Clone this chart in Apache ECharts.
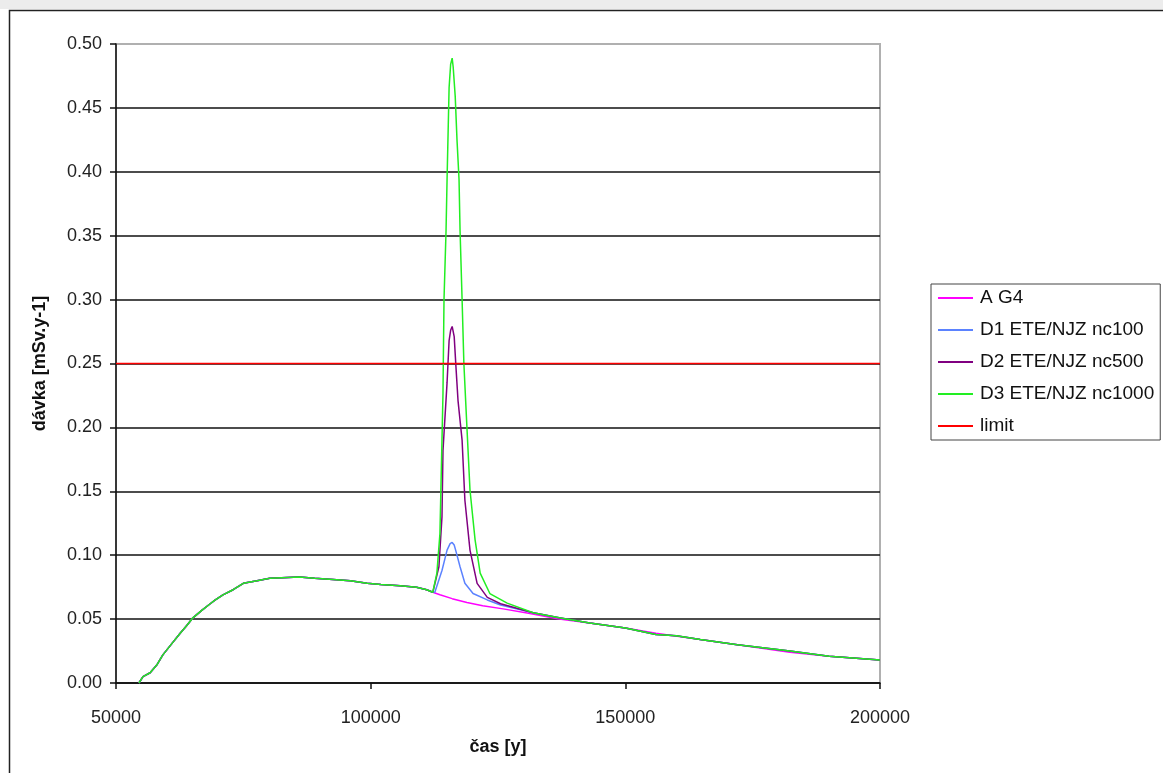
<!DOCTYPE html>
<html>
<head>
<meta charset="utf-8">
<script src="https://cdn.jsdelivr.net/npm/echarts@6/dist/echarts.min.js"></script>
<style>
  html, body { margin: 0; padding: 0; background: #fff; }
  #chart { width: 1163px; height: 773px; }
</style>
</head>
<body>
<div id="chart"></div>
<script>
// Dose over time [year, mSv/y]
// Shared rise of the dose curve before the release peaks
const commonRise = [
  [54500, 0.000], [55300, 0.005], [56700, 0.008], [58000, 0.014], [59200, 0.022],
  [61000, 0.031], [62600, 0.039], [63900, 0.045], [65100, 0.051], [66900, 0.057],
  [68500, 0.062], [69500, 0.065], [71000, 0.069], [73000, 0.073], [75000, 0.078],
  [77700, 0.080], [80200, 0.082], [86000, 0.083], [89000, 0.082], [92600, 0.081],
  [96000, 0.080], [99300, 0.078], [102000, 0.077], [105800, 0.076], [109000, 0.075],
  [111000, 0.073], [112200, 0.071]
];

// A G4 after the rise
const agTail = [
  [113600, 0.069], [116000, 0.066], [118900, 0.063], [122000, 0.0605], [126000, 0.058],
  [131000, 0.0545], [137000, 0.050], [143000, 0.047], [150000, 0.043], [156000, 0.039],
  [164700, 0.034], [172000, 0.030], [182300, 0.024], [190000, 0.021], [200000, 0.018]
];

// Shared decline of the D variants after their peaks
const dTail = [
  [131900, 0.055], [137000, 0.051], [143000, 0.047], [150000, 0.043], [156000, 0.038],
  [160000, 0.037], [164700, 0.034], [172000, 0.030], [182300, 0.025], [190000, 0.021],
  [200000, 0.018]
];

const d1Peak = [
  [112600, 0.071], [114000, 0.088], [115000, 0.104], [115600, 0.109], [116000, 0.110],
  [116400, 0.108], [116750, 0.103], [117550, 0.091], [118500, 0.078], [120100, 0.070],
  [122900, 0.065], [125500, 0.061]
];

const d2Peak = [
  [113400, 0.091], [114000, 0.130], [114200, 0.182], [115000, 0.235], [115400, 0.268],
  [115700, 0.276], [116000, 0.279], [116400, 0.271], [116750, 0.247], [117150, 0.221],
  [117950, 0.190], [118500, 0.143], [119500, 0.104], [120900, 0.078], [122900, 0.067],
  [125500, 0.062]
];

const d3Peak = [
  [113000, 0.086], [113600, 0.117], [114000, 0.190], [114200, 0.227], [114400, 0.300],
  [114800, 0.354], [115000, 0.394], [115400, 0.466], [115700, 0.484], [116000, 0.489],
  [116200, 0.482], [116600, 0.459], [116950, 0.425], [117350, 0.394], [117550, 0.354],
  [117950, 0.300], [118300, 0.250], [118900, 0.200], [119500, 0.151], [120500, 0.112],
  [121500, 0.086], [123400, 0.070], [126800, 0.0625]
];

const limitLine = [[50000, 0.25], [200000, 0.25]];

const seriesNames = ['A G4', 'D1 ETE/NJZ nc100', 'D2 ETE/NJZ nc500', 'D3 ETE/NJZ nc1000', 'limit'];
const seriesColors = ['#ff00ff', '#5b82ff', '#800080', '#22ee22', '#ff0000'];

const xTicks = [50000, 100000, 150000, 200000];

const seriesData = [
  commonRise.concat(agTail),
  commonRise.concat(d1Peak, dTail),
  commonRise.concat(d2Peak, dTail),
  commonRise.concat(d3Peak, dTail),
  limitLine
];

const font = '"Liberation Sans", Arial, sans-serif';
const chart = echarts.init(document.getElementById('chart'), null, { renderer: 'canvas' });

chart.setOption({
  animation: false,
  backgroundColor: '#fff',
  graphic: [
    { type: 'rect', shape: { x: 0, y: 0, width: 1163, height: 9 }, style: { fill: '#ececec' }, silent: true },
    { type: 'rect', shape: { x: 9.5, y: 10.5, width: 1200, height: 800 },
      style: { fill: 'none', stroke: '#222', lineWidth: 1.5 }, silent: true }
  ],
  grid: {
    left: 116, right: 283, top: 44, bottom: 90,
    show: true, borderColor: '#b0b0b0', borderWidth: 2, backgroundColor: 'transparent'
  },
  legend: {
    orient: 'vertical',
    left: 931, top: 284,
    padding: [4, 6, 4, 7],
    borderColor: '#444', borderWidth: 1,
    backgroundColor: '#fff',
    itemWidth: 35, itemHeight: 2, itemGap: 12,
    icon: 'rect',
    data: seriesNames,
    textStyle: { fontFamily: font, fontSize: 19, color: '#111', lineHeight: 20, padding: [0, 0, 0, 2] }
  },
  xAxis: {
    type: 'value',
    min: 50000, max: 200000, interval: 50000,
    name: 'čas [y]',
    nameLocation: 'middle',
    nameGap: 55,
    nameTextStyle: { fontFamily: font, fontSize: 18, fontWeight: 'bold', color: '#111' },
    axisLine: { show: true, onZero: false, lineStyle: { color: '#111', width: 1.5 } },
    axisTick: { show: true, inside: false, length: 6, lineStyle: { color: '#111', width: 1.5 },
      customValues: xTicks },
    axisLabel: { fontFamily: font, fontSize: 18, color: '#222', margin: 26,
      customValues: xTicks, formatter: v => String(v) },
    splitLine: { show: false }
  },
  yAxis: {
    type: 'value',
    min: 0, max: 0.5, interval: 0.05,
    name: 'dávka [mSv.y-1]',
    nameLocation: 'middle',
    nameRotate: 90,
    nameGap: 67,
    nameTextStyle: { fontFamily: font, fontSize: 18, fontWeight: 'bold', color: '#111' },
    axisLine: { show: true, onZero: false, lineStyle: { color: '#111', width: 1.5 } },
    axisTick: { show: true, inside: false, length: 6, lineStyle: { color: '#111', width: 1.5 } },
    axisLabel: { fontFamily: font, fontSize: 18, color: '#222', margin: 14,
      formatter: v => v.toFixed(2) },
    splitLine: { show: true, showMaxLine: false, lineStyle: { color: '#111', width: 1.5 } }
  },
  series: seriesNames.map((name, i) => ({
    name: name,
    type: 'line',
    data: seriesData[i],
    color: seriesColors[i],
    showSymbol: false,
    symbol: 'none',
    lineStyle: { width: 1.5, color: seriesColors[i] },
    z: 2 + i
  }))
});
</script>
</body>
</html>
